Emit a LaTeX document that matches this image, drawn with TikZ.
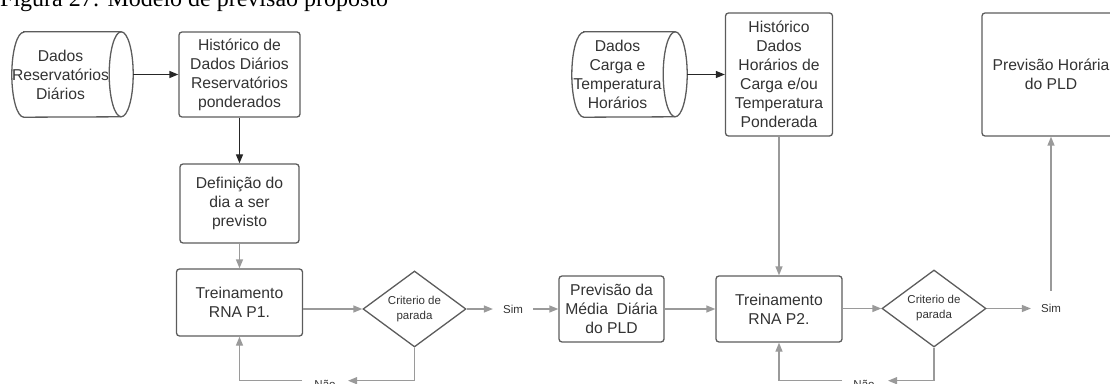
\documentclass[tikz,border=0pt]{standalone}
\usepackage{fontspec}
\setmainfont{Liberation Sans}
\newfontfamily\capfont{Liberation Serif}
\usetikzlibrary{arrows.meta,shapes.geometric}

\definecolor{edgegray}{HTML}{5C5C5C}
\definecolor{linkgray}{HTML}{9A9A9A}
\definecolor{txtgray}{HTML}{333333}

% database drum: the node is the body left of the front ellipse
\newcommand\drawdrum[1]{%
  \draw[edgegray, line width=1.3pt]
    ([xshift=12pt]#1.north west) -- ([xshift=12pt]#1.north east)
    arc[start angle=90, end angle=-90, x radius=12pt, y radius=42.5pt]
    -- ([xshift=12pt]#1.south west)
    arc[start angle=270, end angle=90, x radius=12pt, y radius=42.5pt] -- cycle;
  \draw[edgegray, line width=1.3pt]
    ([xshift=12pt]#1.north east)
    arc[start angle=90, end angle=270, x radius=12pt, y radius=42.5pt];}

\begin{document}
\begin{tikzpicture}[x=1pt, y=1pt,
  box/.style={draw=edgegray, line width=1.3pt, rounded corners=3pt, align=center,
    text=txtgray, font=\fontsize{15.7}{19}\selectfont, inner sep=0},
  store/.style={align=center, text=txtgray, font=\fontsize{15.7}{19}\selectfont,
    inner sep=0, minimum height=85pt},
  decision/.style={draw=edgegray, line width=1.3pt, diamond, aspect=1.35, inner sep=0,
    align=center, text=txtgray, font=\fontsize{11.5}{15}\selectfont},
  tag/.style={text=txtgray, font=\fontsize{11.5}{14}\selectfont, inner sep=0},
  darkarrow/.style={draw=black!85, line width=1.3pt, -{Triangle[length=9pt,width=7pt]}},
  grayarrow/.style={draw=linkgray, line width=1.3pt, -{Triangle[length=9pt,width=7pt]}},
  grayline/.style={draw=linkgray, line width=1.3pt},
]
\useasboundingbox (0,0) rectangle (1110,383);

% caption
\node[anchor=base west, inner sep=0, font=\capfont\fontsize{24}{28}\selectfont]
  (cap) at (0,376) {Figura 27: Modelo de previsão proposto};

% ---- daily stage ----
\node[store, minimum width=97pt] (cyl1) at (60.5,308.5) {Dados\\Reservatórios\\Diários};
\drawdrum{cyl1}
\node[box, minimum width=121pt, minimum height=85pt] (hist1) at (239.5,308.5)
  {Histórico de\\Dados Diários\\Reservatórios\\ponderados};
\node[box, minimum width=119pt, minimum height=79pt] (def) at (239.5,179.5)
  {Definição do\\dia a ser\\previsto};
\node[box, minimum width=126pt, minimum height=67pt] (tr1) at (239.5,80.5)
  {Treinamento\\RNA P1.};
\node[decision, minimum width=103pt, minimum height=76pt] (d1) at (414.5,74)
  {Criterio de\\parada};
\node[tag] (sim1) at (513,74) {Sim};
\node[tag, anchor=base] (nao1) at (325,-5.5) {Não};
\coordinate (n1r) at (348,2.3);
\coordinate (n1l) at (302,2.3);

% ---- hourly stage ----
\node[box, minimum width=105pt, minimum height=66pt] (prev) at (611.5,74)
  {Previsão da\\Média\ \ Diária\\do PLD};
\node[store, minimum width=91pt] (cyl2) at (617.5,308.5) {Dados\\Carga e\\Temperatura\\Horários};
\drawdrum{cyl2}
\node[box, minimum width=107pt, minimum height=123pt] (hist2) at (779,308.5)
  {Histórico\\Dados\\Horários de\\Carga e/ou\\Temperatura\\Ponderada};
\node[box, minimum width=126pt, minimum height=66pt] (tr2) at (779,74)
  {Treinamento\\RNA P2.};
\node[decision, minimum width=104pt, minimum height=77pt] (d2) at (934,74.5)
  {Criterio de\\parada};
\node[tag] (sim2) at (1051,75) {Sim};
\node[tag, anchor=base] (nao2) at (864,-5.5) {Não};
\coordinate (n2r) at (888,2.3);
\coordinate (n2l) at (842,2.3);
\node[box, minimum width=138pt, minimum height=123pt] (out) at (1051,308.5)
  {Previsão Horária\\do PLD};

% ---- connectors ----
\draw[darkarrow] ([xshift=24pt]cyl1.east) -- (hist1.west |- cyl1.east);
\draw[darkarrow] (hist1.south) -- (def.north);
\draw[grayarrow] (def.south) -- (tr1.north);
\draw[grayarrow] (tr1.east |- d1.west) -- (d1.west);
\draw[grayarrow] (d1.east) -- ([xshift=-10pt]sim1.west);
\draw[grayarrow] ([xshift=10pt]sim1.east) -- (prev.west |- sim1.east);
\draw[grayarrow] (d1.south) |- (n1r);
\draw[grayarrow] (n1l) -| (tr1.south);

\draw[darkarrow] ([xshift=24pt]cyl2.east) -- (hist2.west |- cyl2.east);
\draw[grayarrow] (hist2.south) -- (tr2.north);
\draw[grayarrow] (prev.east) -- (tr2.west |- prev.east);
\draw[grayarrow] (tr2.east |- d2.west) -- (d2.west);
\draw[grayarrow] (d2.east) -- ([xshift=-10pt]sim2.west |- d2.east);
\draw[grayarrow] ([yshift=13pt]sim2.north) -- (out.south);
\draw[grayarrow] (d2.south) |- (n2r);
\draw[grayarrow] (n2l) -| (tr2.south);
\end{tikzpicture}
\end{document}
